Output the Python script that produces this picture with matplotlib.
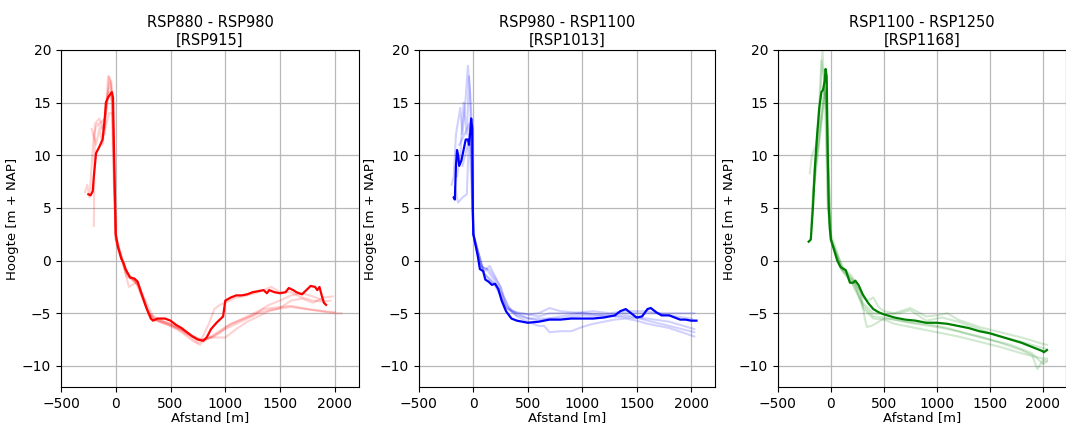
import numpy as np
import matplotlib
matplotlib.use("Agg")
import matplotlib.pyplot as plt

# ---- panel 1: RSP880 - RSP980 ----
p1_main_x = [-250, -230, -210, -200, -180, -150, -120, -100, -90, -70, -50, -35, -25, -15, -5, 0, 20, 50, 70, 90,
             130, 170, 200, 230, 280, 320, 340, 380, 450, 500, 550, 600, 650, 700, 750, 800, 830, 870, 920, 960,
             980, 1000, 1050, 1100, 1150, 1200, 1250, 1300, 1350, 1380, 1400, 1450, 1500, 1550, 1580, 1620, 1650,
             1700, 1750, 1780, 1820, 1840, 1860, 1880, 1900, 1920]
p1_main_y = [6.3, 6.2, 6.6, 8, 10.2, 10.8, 11.5, 13.5, 15, 15.5, 15.8, 16, 15.5, 10, 5, 2.5, 1.3, 0.2, -0.2, -0.8,
             -1.6, -1.7, -2, -3, -4.5, -5.5, -5.7, -5.5, -5.5, -5.7, -6.1, -6.4, -6.8, -7.2, -7.5, -7.6, -7.3, -6.5,
             -5.9, -5.5, -5.3, -3.8, -3.5, -3.3, -3.3, -3.2, -3.0, -2.9, -2.8, -3.1, -2.8, -3.0, -3.1, -3.0, -2.6,
             -2.8, -3.0, -3.2, -2.7, -2.4, -2.5, -2.8, -2.5, -3.3, -4.0, -4.2]
p1_faint = [
    ([-280, -260, -240, -200, -170, -130, -90, -60, -40, -20, 0, 50, 100, 150, 200, 250, 300, 350, 400, 500, 600,
      700, 770, 800, 900, 1000, 1100, 1200, 1300, 1400, 1600, 1800, 2000, 2060],
     [6.5, 7.2, 6.0, 12, 13, 12.5, 14, 17.5, 16.5, 8, 2.3, 0.5, -1.2, -1.8, -2.3, -3.5, -5.0, -5.5, -5.8, -6.2,
      -6.8, -7.6, -8.0, -7.5, -7.2, -6.5, -6.0, -5.5, -5.0, -4.7, -4.4, -4.7, -5.0, -5.0]),
    ([-200, -190, -150, -100, -70, -40, -20, 0, 60, 120, 200, 280, 340, 450, 600, 750, 850, 1000, 1100, 1200,
      1300, 1400, 1500, 1600, 1700, 1800, 1900, 1980],
     [3.3, 13, 13.5, 12, 17.5, 17, 12, 2, 0, -2.5, -2.0, -4.5, -5.6, -6.0, -6.6, -7.8, -7.3, -7.3, -6.5, -5.8,
      -5.3, -4.8, -4.5, -3.8, -3.6, -4.0, -3.5, -3.4]),
    ([-220, -180, -150, -120, -80, -50, -30, -10, 0, 80, 150, 220, 300, 400, 500, 650, 780, 850, 900, 950, 1000,
      1100, 1200, 1300, 1420, 1500, 1600, 1700, 1800, 1900, 1960],
     [12.5, 11, 12.5, 11, 15.5, 17, 15, 6, 2.5, -0.8, -1.7, -2.5, -5, -5.6, -6.0, -7.0, -7.5, -6.0, -4.6, -4.2,
      -4.0, -3.5, -3.3, -3.0, -2.5, -3.0, -3.0, -3.5, -3.8, -3.9, -3.8]),
    ([-150, -100, -60, -30, 0, 100, 180, 260, 330, 450, 600, 750, 850, 950, 1050, 1150, 1250, 1350, 1500, 1600,
      1750, 1900, 2000],
     [13, 13.5, 16, 15, 2, -1.5, -2.0, -4.0, -5.5, -5.9, -6.5, -7.5, -7.4, -6.8, -6.0, -5.6, -5.2, -4.6, -4.4,
      -4.3, -4.6, -4.8, -4.9]),
    ([-100, -60, -30, 0, 100, 200, 280, 350, 500, 650, 800, 900, 1000, 1100, 1200, 1300, 1400, 1500, 1600, 1700,
      1800, 1900],
     [12.5, 14, 14, 2, -1.2, -2.2, -4.0, -5.5, -6.0, -6.8, -7.7, -7.0, -6.3, -5.8, -5.3, -4.8, -4.2, -3.8, -3.3,
      -3.1, -3.4, -3.8]),
]

# ---- panel 2: RSP980 - RSP1100 ----
p2_main_x = [-180, -170, -160, -150, -140, -130, -110, -90, -70, -50, -40, -30, -20, -10, -5, 0, 20, 40, 60, 90,
             110, 140, 170, 200, 230, 260, 300, 350, 400, 450, 500, 600, 700, 800, 900, 1000, 1100, 1200, 1250,
             1300, 1350, 1400, 1450, 1500, 1550, 1600, 1630, 1680, 1730, 1800, 1850, 1900, 1950, 2000, 2050]
p2_main_y = [6.0, 5.8, 9, 10.5, 10, 9, 9.5, 10.5, 11.5, 11.5, 11, 12, 13.5, 12.5, 5, 2.5, 1.5, 0.5, -0.8, -1.0,
             -1.8, -2.0, -2.3, -2.2, -2.7, -3.8, -4.8, -5.5, -5.7, -5.8, -5.9, -5.8, -5.6, -5.6, -5.5, -5.5, -5.5,
             -5.4, -5.3, -5.2, -4.8, -4.6, -5.0, -5.4, -5.3, -4.6, -4.5, -4.9, -5.2, -5.2, -5.4, -5.6, -5.6, -5.7,
             -5.7]
p2_faint = [
    ([-200, -180, -160, -120, -100, -70, -50, -30, -10, 0, 50, 100, 150, 200, 250, 300, 400, 500, 600, 700, 800,
      1000, 1200, 1400, 1600, 1800, 2030],
     [7.2, 8, 12, 14.5, 12, 15.5, 18.5, 16, 6, 2.5, 0, -1.0, -0.5, -1.5, -2.5, -4.5, -5.0, -5.1, -5.0, -4.5, -4.8,
      -5.0, -5.1, -5.0, -5.0, -5.0, -5.0]),
    ([-150, -120, -90, -60, -40, -20, 0, 60, 120, 200, 280, 350, 450, 600, 700, 900, 1100, 1250, 1400, 1600,
      1800, 2000, 2030],
     [8, 10, 15, 12, 17.5, 14, 2.5, -0.5, -0.8, -2.0, -3.5, -4.8, -5.0, -5.3, -5.0, -5.0, -4.8, -5.0, -4.8, -4.8,
      -5.2, -5.5, -5.7]),
    ([-170, -140, -100, -60, -40, -20, 0, 80, 150, 250, 320, 400, 500, 600, 650, 700, 800, 900, 1000, 1100,
      1200, 1300, 1400, 1500, 1600, 1800, 2030],
     [7, 5.5, 6, 6.3, 12, 12, 2.5, -0.6, -0.9, -2.5, -4.5, -5.3, -5.8, -6.2, -6.2, -6.8, -6.7, -6.7, -6.3, -6.0,
      -5.8, -5.6, -5.5, -5.7, -6.0, -6.4, -7.2]),
    ([-130, -80, -40, 0, 100, 200, 300, 400, 500, 600, 800, 1000, 1200, 1400, 1500, 1600, 1800, 2030],
     [11, 12, 13, 2.5, -1.2, -2.3, -4.3, -5.0, -5.5, -5.5, -5.5, -5.2, -5.3, -5.2, -5.4, -5.7, -6.2, -6.8]),
    ([-100, -50, -20, 0, 100, 200, 300, 400, 600, 800, 1000, 1200, 1400, 1600, 1800, 2030],
     [9, 11, 11, 2.5, -1.3, -2.3, -4.5, -5.2, -5.7, -5.3, -5.0, -5.2, -5.4, -5.5, -5.8, -6.5]),
]

# ---- panel 3: RSP1100 - RSP1250 ----
p3_main_x = [-210, -190, -170, -150, -130, -110, -90, -75, -60, -50, -40, -30, -20, -10, 0, 30, 60, 90, 120, 140,
             160, 180, 210, 230, 260, 300, 350, 400, 450, 500, 600, 700, 800, 900, 1000, 1100, 1200, 1300, 1400,
             1500, 1600, 1700, 1800, 1900, 2000, 2010, 2040]
p3_main_y = [1.8, 2.0, 5, 9, 12, 14.5, 16, 16.2, 17, 18.2, 17.5, 10, 5, 3, 2, 1, 0, -0.6, -0.8, -0.9, -1.5,
             -2.1, -2.1, -1.9, -2.3, -3.2, -4.0, -4.6, -4.9, -5.1, -5.4, -5.6, -5.7, -5.9, -5.9, -6.0, -6.2, -6.4,
             -6.7, -6.9, -7.2, -7.5, -7.8, -8.2, -8.6, -8.7, -8.5]
p3_faint = [
    ([-200, -180, -140, -110, -80, -60, -40, -20, 0, 100, 200, 250, 300, 350, 400, 450, 500, 600, 750, 900, 1000,
      1100, 1200, 1400, 1600, 1800, 2000, 2040],
     [8.3, 10, 11, 13, 20, 16, 15, 5, 2.5, -0.5, -1.5, -2.5, -3.5, -3.8, -3.5, -4.4, -4.8, -5.0, -4.5, -5.3, -5.2,
      -5.0, -5.6, -6.3, -6.8, -7.3, -7.9, -8.0]),
    ([-190, -160, -120, -90, -60, -40, -30, 0, 100, 200, 280, 320, 340, 380, 420, 500, 600, 800, 1000, 1200,
      1400, 1600, 1800, 1900, 1950, 2000, 2040],
     [3, 8, 13, 19, 17, 9, 5, 2, -0.8, -1.8, -3.0, -5.5, -6.3, -6.2, -6.0, -5.5, -5.6, -6.0, -6.3, -6.7, -7.2,
      -7.8, -8.5, -9.0, -10.3, -9.5, -9.5]),
    ([-180, -150, -120, -80, -50, -30, 0, 120, 220, 300, 400, 500, 600, 800, 1000, 1200, 1400, 1600, 1800, 2000,
      2040],
     [4, 9, 11, 14, 16, 11, 2, -0.8, -2.0, -4.5, -5.5, -5.6, -6.0, -6.4, -6.8, -7.2, -7.7, -8.2, -8.8, -9.3,
      -9.3]),
    ([-170, -130, -100, -70, -50, -30, 0, 100, 200, 300, 400, 500, 650, 750, 900, 1050, 1200, 1400, 1600, 1800,
      2000, 2040],
     [6, 10, 13, 15.5, 17, 6, 2, -0.8, -2.0, -4.0, -5.0, -5.1, -5.0, -4.7, -5.7, -5.4, -5.8, -6.5, -7.2, -7.7,
      -8.3, -8.4]),
    ([-160, -100, -60, -40, 0, 100, 200, 300, 400, 500, 700, 900, 1100, 1300, 1500, 1700, 1900, 2000, 2040],
     [7, 12, 16.5, 14, 2, -0.9, -2.2, -4.2, -5.3, -5.4, -5.8, -6.0, -6.4, -7.0, -7.5, -8.0, -8.8, -9.8, -9.6]),
]

titles = ["RSP880 - RSP980\n[RSP915]", "RSP980 - RSP1100\n[RSP1013]", "RSP1100 - RSP1250\n[RSP1168]"]
colors = ["red", "blue", "green"]
panels = [(p1_main_x, p1_main_y, p1_faint), (p2_main_x, p2_main_y, p2_faint), (p3_main_x, p3_main_y, p3_faint)]
lefts = [0.0572, 0.393, 0.7298]
widths = [0.2795, 0.2777, 0.2702]

fig = plt.figure(figsize=(10.66, 4.23), dpi=100)
for i in range(3):
    ax = fig.add_axes([lefts[i], 0.0851, widths[i], 0.7967])
    mx, my, faint = panels[i]
    for fx, fy in faint:
        ax.plot(fx, fy, color=colors[i], alpha=0.18, lw=1.5)
    ax.plot(mx, my, color=colors[i], lw=1.6)
    ax.set_xlim(-500, 2220)
    ax.set_ylim(-12, 20)
    ax.set_xticks([-500, 0, 500, 1000, 1500, 2000])
    ax.set_yticks([-10, -5, 0, 5, 10, 15, 20])
    ax.grid(True, color="#b8b8b8", lw=0.9)
    ax.set_axisbelow(True)
    ax.set_title(titles[i], fontsize=10.5, pad=4)
    ax.set_xlabel("Afstand [m]", fontsize=9.5, labelpad=0)
    ax.set_ylabel("Hoogte [m + NAP]", fontsize=9.5, labelpad=2)
    ax.tick_params(labelsize=10)

fig.savefig("out.png", dpi=100)
